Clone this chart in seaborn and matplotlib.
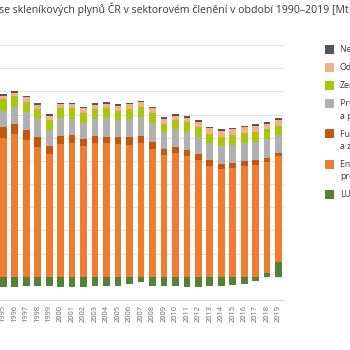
import numpy as np
import pandas as pd
import matplotlib
matplotlib.use("Agg")
import matplotlib.pyplot as plt
from matplotlib.patches import Rectangle
import seaborn as sns

years = [str(y) for y in range(1990, 2020)]

# Mt CO2 ekv. (1990-1994 jsou mimo výřez, jen odhad)
lulucf = [-4.5, -6.0, -7.0, -7.5, -8.0,
          -8.9, -8.9, -7.5, -7.8, -7.8, -8.9, -9.2, -8.9, -7.5, -7.8,
          -8.3, -6.0, -4.3, -7.5, -8.0, -7.8, -8.6, -8.9, -8.3, -8.0,
          -7.2, -6.0, -3.7, 3.7, 12.9]
energie = [158.0, 147.0, 138.0, 132.0, 124.0,
           120.1, 123.0, 117.8, 112.1, 106.0, 114.9, 115.8, 112.9, 115.8, 115.8,
           114.4, 114.0, 115.8, 110.6, 105.2, 106.6, 104.3, 100.9, 95.7, 92.8,
           94.0, 95.7, 96.5, 95.7, 91.4]
fugitivni = [12.0, 11.5, 11.0, 10.5, 9.5,
             9.0, 8.9, 8.6, 8.3, 7.2, 6.9, 6.4, 5.7, 5.7, 5.2,
             6.0, 6.4, 5.7, 5.7, 5.2, 5.7, 5.4, 5.2, 5.2, 4.6,
             4.6, 4.0, 4.0, 3.2, 2.6]
prumysl = [20.0, 17.0, 16.0, 15.5, 15.0,
           14.0, 14.9, 15.8, 15.8, 13.5, 15.0, 14.1, 14.3, 14.7, 16.4,
           14.9, 15.8, 16.6, 16.6, 14.4, 15.0, 15.5, 14.9, 14.4, 15.8,
           15.3, 15.8, 16.0, 16.4, 15.5]
zemedelstvi = [16.0, 14.0, 12.5, 11.0, 10.5,
               10.1, 9.2, 8.9, 8.6, 8.6, 8.6, 9.2, 8.6, 8.4, 8.1,
               8.0, 8.6, 8.1, 8.6, 7.4, 7.8, 8.1, 8.4, 8.0, 7.8,
               8.6, 8.6, 8.4, 8.3, 8.0]
odpady = [2.6, 2.7, 2.8, 2.8, 2.8,
          2.8, 2.9, 3.8, 3.7, 3.4, 3.4, 3.4, 3.8, 4.0, 4.0,
          4.0, 4.0, 4.3, 4.0, 4.0, 4.0, 4.0, 4.3, 4.9, 4.9,
          4.6, 4.9, 5.2, 4.9, 4.9]
neprime = [1.5, 1.5, 1.5, 1.5, 1.5,
           1.5, 1.5, 1.4, 1.4, 1.4, 1.4, 1.4, 1.4, 1.4, 1.4,
           1.4, 1.4, 1.4, 1.4, 1.4, 1.4, 1.4, 1.4, 1.4, 1.4,
           1.4, 1.4, 1.4, 1.4, 1.4]

sektory = ["Energetika", "Fugitivni", "Prumysl", "Zemedelstvi", "Odpady", "Neprime"]
barvy = {"LULUCF": "#548235", "Energetika": "#ee7d31", "Fugitivni": "#c5570f",
         "Prumysl": "#b0b0b0", "Zemedelstvi": "#a8c70b", "Odpady": "#f5b08a",
         "Neprime": "#555555"}
popisky = {"Neprime": "Nepřímé emise CO₂", "Odpady": "Odpady",
           "Zemedelstvi": "Zemědělství",
           "Prumysl": "Průmyslové procesy\na použití produktů",
           "Fugitivni": "Fugitivní emise z těžby\na zpracování paliv",
           "Energetika": "Energetika – spalovací\nprocesy",
           "LULUCF": "LULUCF"}

df = pd.DataFrame({"rok": years, "LULUCF": lulucf, "Energetika": energie,
                   "Fugitivni": fugitivni, "Prumysl": prumysl,
                   "Zemedelstvi": zemedelstvi, "Odpady": odpady,
                   "Neprime": neprime})

sns.set_style("whitegrid")
plt.rcParams['font.family'] = ['Open Sans', 'DejaVu Sans']

fig = plt.figure(figsize=(3.5, 3.5), dpi=100)
# osa schvalne preteka vlevo mimo obrazek (vyrez z vetsiho grafu)
ax = fig.add_axes([-60.9 / 350, 50 / 350, 344.9 / 350, 255 / 350])

sirka = 0.58
sns.barplot(data=df, x="rok", y="LULUCF", color=barvy["LULUCF"], saturation=1,
            width=sirka, linewidth=0, errorbar=None, ax=ax)
base = df["LULUCF"].clip(lower=0).to_numpy()
for s in sektory:
    sns.barplot(data=df, x="rok", y=s, bottom=base, color=barvy[s], saturation=1,
                width=sirka, linewidth=0, errorbar=None, ax=ax)
    base = base + df[s].to_numpy()

ax.set_xlim(-0.6, 29.47)
ax.set_ylim(-20, 200)
ax.set_yticks(range(-20, 201, 20))
ax.set(xlabel="", ylabel="")
ax.grid(axis="y", color="#e2e2e2", linewidth=0.8)
ax.grid(axis="x", visible=False)
sns.despine(ax=ax, left=True)
ax.spines["bottom"].set_color("#d9d9d9")
ax.spines["bottom"].set_linewidth(0.8)
ax.tick_params(axis="x", length=0, labelrotation=90, labelsize=5.4,
               colors="#666666", pad=3.5)
ax.tick_params(axis="y", length=0, labelsize=6, colors="#666666")

# titulek - velikost podle sirky viditelne casti
fig.canvas.draw()
r = fig.canvas.get_renderer()
t = fig.text(0, 0, "se skleníkových plynů ČR v sektorovém členění v období 1990–2019 [Mt",
             fontsize=10)
fs = 10 * 347 / t.get_window_extent(r).width
t.remove()
t = fig.text(0, 0, "Emi", fontsize=fs)
odsaz = t.get_window_extent(r).width + 1
t.remove()
fig.text(-odsaz / 350, 1 - 12.7 / 350,
         "Emise skleníkových plynů ČR v sektorovém členění v období 1990–2019 [Mt CO₂ ekv.]",
         fontsize=fs, color="#3a3a3a", va="baseline", ha="left")

# legenda (ctverecek zarovnany s prvnim radkem popisku)
y = 49.5
for s in ["Neprime", "Odpady", "Zemedelstvi", "Prumysl", "Fugitivni", "Energetika", "LULUCF"]:
    fig.add_artist(Rectangle((325 / 350, 1 - (y + 4.5) / 350), 9 / 350, 9 / 350,
                             transform=fig.transFigure, color=barvy[s], lw=0))
    radky = popisky[s].split("\n")
    for k, radek in enumerate(radky):
        fig.text(340 / 350, 1 - (y + 3.0 + 12.3 * k) / 350, radek, fontsize=6.3,
                 color="#3a3a3a", va="baseline", ha="left")
    y += 18 + 12.3 * (len(radky) - 1)

fig.savefig("out.png", dpi=100)
